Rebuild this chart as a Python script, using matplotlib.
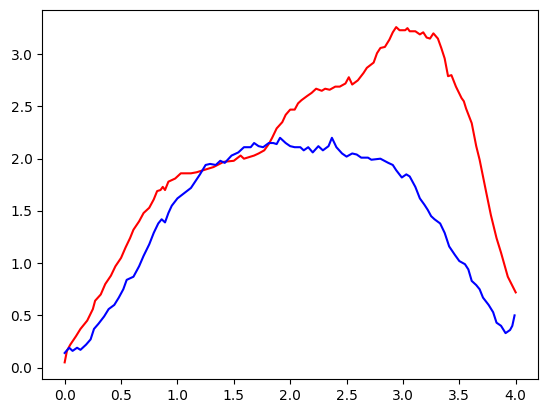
import numpy as np
import matplotlib.pyplot as plt

# red curve
red_x = [0.0, 0.02, 0.05, 0.10, 0.14, 0.20, 0.25, 0.27, 0.32, 0.36, 0.41, 0.45, 0.50, 0.54,
         0.58, 0.61, 0.66, 0.70, 0.75, 0.79, 0.82, 0.85, 0.87, 0.89, 0.92, 0.98, 1.03, 1.12,
         1.17, 1.23, 1.32, 1.41, 1.50, 1.56, 1.59, 1.68, 1.72, 1.77, 1.81, 1.84, 1.88, 1.93,
         1.96, 2.00, 2.04, 2.07, 2.10, 2.15, 2.19, 2.23, 2.28, 2.31, 2.35, 2.40, 2.44, 2.49,
         2.52, 2.55, 2.60, 2.65, 2.68, 2.74, 2.77, 2.80, 2.84, 2.88, 2.91, 2.94, 2.97, 3.02,
         3.04, 3.06, 3.11, 3.15, 3.18, 3.21, 3.24, 3.27, 3.31, 3.34, 3.37, 3.40, 3.43, 3.47,
         3.52, 3.54, 3.56, 3.61, 3.65, 3.68, 3.71, 3.74, 3.78, 3.83, 3.87, 3.93, 4.00]
red_y = [0.05, 0.16, 0.22, 0.30, 0.37, 0.45, 0.56, 0.64, 0.70, 0.80, 0.88, 0.97, 1.05, 1.15,
         1.24, 1.32, 1.40, 1.48, 1.53, 1.61, 1.69, 1.70, 1.73, 1.70, 1.78, 1.81, 1.86, 1.86,
         1.87, 1.89, 1.92, 1.97, 1.98, 2.03, 2.00, 2.03, 2.05, 2.08, 2.14, 2.20, 2.29, 2.35,
         2.42, 2.47, 2.47, 2.53, 2.56, 2.60, 2.63, 2.67, 2.65, 2.67, 2.66, 2.69, 2.69, 2.72,
         2.78, 2.71, 2.75, 2.82, 2.87, 2.92, 3.01, 3.06, 3.07, 3.14, 3.21, 3.26, 3.23, 3.23,
         3.25, 3.22, 3.22, 3.19, 3.21, 3.16, 3.15, 3.20, 3.15, 3.06, 2.96, 2.79, 2.80, 2.69,
         2.58, 2.55, 2.48, 2.34, 2.12, 1.99, 1.83, 1.67, 1.46, 1.24, 1.10, 0.87, 0.72]

# blue curve
blue_x = [0.0, 0.04, 0.07, 0.11, 0.14, 0.19, 0.23, 0.26, 0.30, 0.35, 0.39, 0.44, 0.48, 0.52,
          0.55, 0.61, 0.66, 0.70, 0.75, 0.79, 0.83, 0.86, 0.89, 0.92, 0.95, 1.00, 1.06, 1.12,
          1.20, 1.25, 1.29, 1.34, 1.38, 1.42, 1.48, 1.54, 1.59, 1.65, 1.68, 1.72, 1.76, 1.81,
          1.85, 1.88, 1.91, 1.96, 2.00, 2.04, 2.09, 2.12, 2.16, 2.20, 2.25, 2.29, 2.34, 2.37,
          2.41, 2.46, 2.50, 2.55, 2.59, 2.63, 2.69, 2.72, 2.80, 2.87, 2.91, 2.94, 2.99, 3.03,
          3.06, 3.11, 3.15, 3.19, 3.22, 3.25, 3.28, 3.33, 3.37, 3.41, 3.46, 3.50, 3.55, 3.58,
          3.61, 3.65, 3.68, 3.71, 3.76, 3.80, 3.83, 3.87, 3.91, 3.95, 3.97, 3.99]
blue_y = [0.14, 0.19, 0.16, 0.19, 0.17, 0.22, 0.27, 0.37, 0.42, 0.49, 0.56, 0.60, 0.67, 0.75,
          0.84, 0.87, 0.97, 1.07, 1.18, 1.29, 1.38, 1.42, 1.39, 1.48, 1.55, 1.62, 1.67, 1.72,
          1.85, 1.94, 1.95, 1.94, 1.98, 1.96, 2.03, 2.06, 2.11, 2.11, 2.15, 2.12, 2.11, 2.15,
          2.15, 2.14, 2.20, 2.15, 2.12, 2.11, 2.11, 2.08, 2.11, 2.06, 2.12, 2.08, 2.12, 2.20,
          2.11, 2.05, 2.02, 2.05, 2.04, 2.01, 2.01, 1.99, 2.00, 1.96, 1.94, 1.89, 1.82, 1.85,
          1.83, 1.73, 1.62, 1.56, 1.51, 1.45, 1.42, 1.38, 1.29, 1.16, 1.08, 1.02, 0.99, 0.94,
          0.83, 0.79, 0.75, 0.67, 0.60, 0.53, 0.43, 0.40, 0.33, 0.36, 0.40, 0.50]

fig, ax = plt.subplots(figsize=(5.47, 4.13), dpi=100)
fig.subplots_adjust(left=0.077, right=0.984, top=0.975, bottom=0.082)

ax.plot(red_x, red_y, color='red')
ax.plot(blue_x, blue_y, color='blue')

fig.savefig('out.png')
